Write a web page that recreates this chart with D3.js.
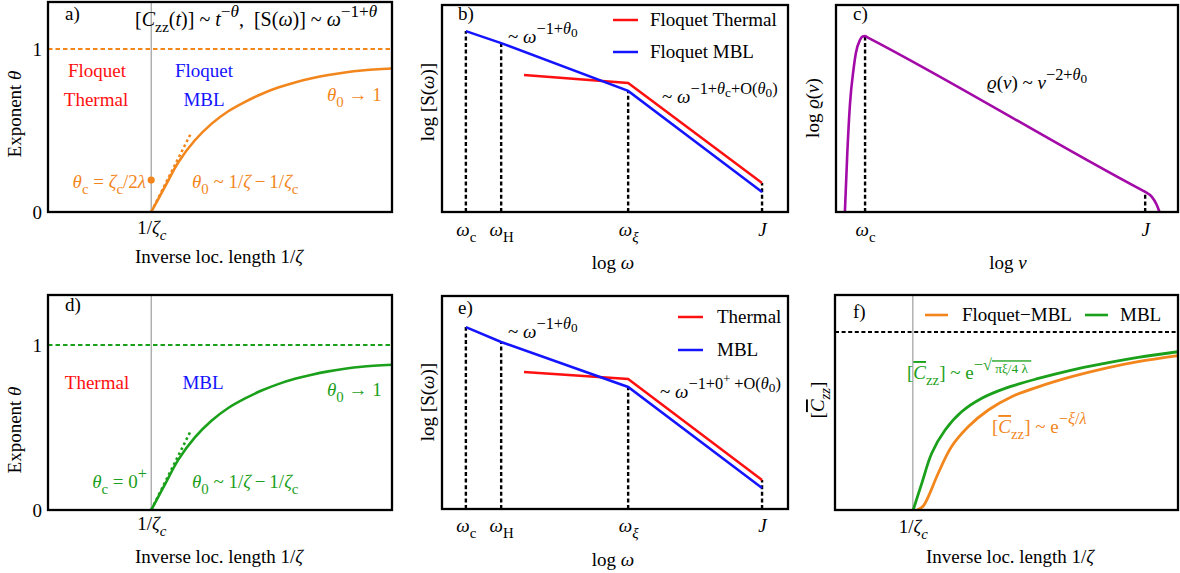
<!DOCTYPE html>
<html><head><meta charset="utf-8">
<script src="https://cdn.jsdelivr.net/npm/d3@7"></script>
<style>
html,body{margin:0;padding:0;background:#fff;}
svg{display:block;font-family:"Liberation Serif","Times New Roman",serif;}
svg text{font-family:"Liberation Serif","Times New Roman",serif;white-space:pre;}
</style></head>
<body><svg id="c" width="1180" height="573"></svg>
<script>
// ---------- data ----------
// panels a & d: exponent theta vs inverse localisation length (normalised x)
const thetaX = [0.30, 0.340, 0.379, 0.427, 0.476, 0.524, 0.573, 0.621, 0.669, 0.718, 0.767, 0.815, 0.863, 0.912, 1.0];
const thetaY = [0, 0.155, 0.305, 0.440, 0.542, 0.618, 0.676, 0.724, 0.763, 0.795, 0.820, 0.840, 0.856, 0.868, 0.88];
const tangentX = [0.30, 0.415];
const tangentY = [0, 0.48];
const critX = 0.30;           // 1/zeta_c
const thetaCdot = 0.196;      // theta_c marker in panel a
const thetaLimit = 1;         // dashed asymptote
// panels b & e: spectra (normalised log axes)
const specTickX = [0.069, 0.171, 0.538, 0.925];   // omega_c, omega_H, omega_xi, J
const mblB = [0.874, 0.816, 0.585, 0.097];
const thermX = [0.237, 0.538, 0.925];
const thermB = [0.662, 0.623, 0.140];
const mblE = [0.854, 0.784, 0.573, 0.099];
const thermE = [0.643, 0.610, 0.136];
// panel c: rho(nu)
const rhoX = [0.026, 0.033, 0.041, 0.051, 0.058, 0.070, 0.078, 0.085, 0.092, 0.896, 0.904, 0.923, 0.938, 0.946];
const rhoY = [0, 0.283, 0.525, 0.686, 0.767, 0.831, 0.848, 0.850, 0.844, 0.104, 0.097, 0.074, 0.034, 0];
const rhoTickX = [0.085, 0.904];
const rhoTickY = [0.850, 0.097];
// panel f: [C_zz]
const czzCritX = 0.227;
const czzLimit = 0.828;
const czzGreenX = [0.228, 0.253, 0.282, 0.321, 0.369, 0.428, 0.496, 0.593, 0.690, 0.787, 0.884, 1.0];
const czzGreenY = [0, 0.124, 0.264, 0.372, 0.457, 0.520, 0.566, 0.612, 0.651, 0.682, 0.710, 0.736];
const czzOrangeX = [0.240, 0.258, 0.272, 0.301, 0.340, 0.389, 0.447, 0.515, 0.593, 0.690, 0.787, 0.884, 1.0];
const czzOrangeY = [0, 0.02, 0.062, 0.171, 0.295, 0.388, 0.465, 0.527, 0.573, 0.620, 0.659, 0.690, 0.718];

// ---------- styles ----------
const ORANGE = "#f2861c", GREEN = "#1aa01a", RED = "#ff1010", BLUE = "#1414ff", PURPLE = "#a30aa8";
const FS = 19;
const FONT = "Liberation Serif, Times New Roman, serif";
const svg = d3.select("#c");

function rich(parent, x, y, segs, o = {}) {
  const fs = o.size || FS;
  const t = parent.append("text").attr("x", x).attr("y", y).attr("font-size", fs).attr("font-family", FONT)
    .attr("fill", o.fill || "#000").attr("text-anchor", o.anchor || "start");
  if (o.rotate) t.attr("transform", `rotate(-90 ${x} ${y})`);
  let cur = 0;
  segs.forEach(s => {
    const txt = s[0], code = s[1] || "";
    let off = 0, sc = 1;
    if (code.includes("b")) { off = 0.3; sc = 0.78; }
    if (code.includes("p")) { off = -0.46; sc = 0.86; }
    if (code.includes("q")) { off = -0.3; sc = 0.7; }
    if (code.includes("r")) { off = -0.78; sc = 0.66; }
    const ts = t.append("tspan").text(txt).attr("dy", ((off - cur) * fs).toFixed(2)).attr("font-size", (fs * sc).toFixed(2));
    if (code.includes("i")) ts.attr("font-style", "italic");
    if (code.includes("o")) ts.attr("text-decoration", "overline");
    cur = off;
  });
  return t;
}

function panel(l, r, t, b, yd) {
  const g = svg.append("g");
  const x = d3.scaleLinear().domain([0, 1]).range([l, r]);
  const y = d3.scaleLinear().domain(yd || [0, 1]).range([b, t]);
  return { g, x, y, l, r, t, b };
}
function frame(p) {
  p.g.append("rect").attr("x", p.l).attr("y", p.t).attr("width", p.r - p.l).attr("height", p.b - p.t)
    .attr("fill", "none").attr("stroke", "#000").attr("stroke-width", 2.3);
}
function bottomAxis(p, vals, labels, off) {
  const ax = p.g.append("g").attr("transform", `translate(0,${p.b})`)
    .call(d3.axisBottom(p.x).tickValues(vals).tickSize(0).tickFormat(""));
  ax.attr("font-family", FONT).attr("font-size", FS);
  ax.select(".domain").remove();
  ax.selectAll(".tick").each(function (d, i) {
    d3.select(this).select("text").remove();
    rich(d3.select(this), 0, off, labels[i], { anchor: "middle" });
  });
}
function leftAxis(p, vals) {
  const ax = p.g.append("g").attr("transform", `translate(${p.l},0)`)
    .call(d3.axisLeft(p.y).tickValues(vals).tickSize(0).tickPadding(6).tickFormat(d3.format("d")));
  ax.attr("font-family", FONT).attr("font-size", FS);
  ax.select(".domain").remove();
  ax.selectAll("text").attr("fill", "#000");
}
const lineGen = (p, curve) => d3.line().x(d => p.x(d[0])).y(d => p.y(d[1])).curve(curve || d3.curveLinear);
const zip = (a, b) => a.map((v, i) => [v, b[i]]);
const smooth = d3.curveCatmullRom.alpha(0.5);

// ---------- panels a & d ----------
function thetaPanel(p, col, isA) {
  p.g.append("line").attr("x1", p.x(critX)).attr("x2", p.x(critX)).attr("y1", p.t).attr("y2", p.b)
    .attr("stroke", "#8a8a8a").attr("stroke-width", 1);
  p.g.append("line").attr("x1", p.l).attr("x2", p.r).attr("y1", p.y(thetaLimit)).attr("y2", p.y(thetaLimit))
    .attr("stroke", col).attr("stroke-width", 2).attr("stroke-dasharray", "4.5,3");
  p.g.append("path").attr("d", lineGen(p)(zip(tangentX, tangentY))).attr("fill", "none")
    .attr("stroke", col).attr("stroke-width", 2.6).attr("stroke-dasharray", "2.6,3");
  p.g.append("path").attr("d", lineGen(p, smooth)(zip(thetaX, thetaY))).attr("fill", "none")
    .attr("stroke", col).attr("stroke-width", 2.6);
  if (isA) p.g.append("circle").attr("cx", p.x(critX)).attr("cy", p.y(thetaCdot)).attr("r", 3.6).attr("fill", col);
  leftAxis(p, [0, 1]);
  frame(p);
}
const pa = panel(48, 392, 2, 212, [0, 1.288]);
thetaPanel(pa, ORANGE, true);
bottomAxis(pa, [critX], [[["1/"], ["ζ", "i"], ["c", "bi"]]], 22);
rich(pa.g, 65, 20, [["a)"]]);
rich(pa.g, 135, 26, [["["], ["C", "i"], ["zz", "b"], ["("], ["t", "i"], [")] ~ "], ["t", "i"], ["−", "p"], ["θ", "pi"],
  [",  [S("], ["ω", "i"], [")] ~ "], ["ω", "i"], ["−1+", "p"], ["θ", "pi"]], { size: 20 });
rich(pa.g, 97, 77, [["Floquet"]], { anchor: "middle", fill: RED });
rich(pa.g, 96, 106, [["Thermal"]], { anchor: "middle", fill: RED });
rich(pa.g, 204, 77, [["Floquet"]], { anchor: "middle", fill: BLUE });
rich(pa.g, 204, 106, [["MBL"]], { anchor: "middle", fill: BLUE });
rich(pa.g, 327, 101, [["θ", "i"], ["0", "b"], [" → 1"]], { fill: ORANGE });
rich(pa.g, 146, 188, [["θ", "i"], ["c", "b"], [" = "], ["ζ", "i"], ["c", "b"], ["/2"], ["λ", "i"]], { anchor: "end", fill: ORANGE });
rich(pa.g, 192, 188, [["θ", "i"], ["0", "b"], [" ~ 1/"], ["ζ", "i"], ["\u2009−\u20091/"], ["ζ", "i"], ["c", "b"]], { fill: ORANGE });
rich(pa.g, 219, 263, [["Inverse loc. length 1/"], ["ζ", "i"]], { anchor: "middle" });
rich(pa.g, 21, 114, [["Exponent "], ["θ", "i"]], { anchor: "middle", rotate: true });

const pd = panel(48, 392, 295, 510, [0, 1.303]);
thetaPanel(pd, GREEN, false);
bottomAxis(pd, [critX], [[["1/"], ["ζ", "i"], ["c", "bi"]]], 20);
rich(pd.g, 65, 311, [["d)"]]);
rich(pd.g, 97, 389, [["Thermal"]], { anchor: "middle", fill: RED });
rich(pd.g, 203, 389, [["MBL"]], { anchor: "middle", fill: BLUE });
rich(pd.g, 327, 396, [["θ", "i"], ["0", "b"], [" → 1"]], { fill: GREEN });
rich(pd.g, 147, 488, [["θ", "i"], ["c", "b"], [" = 0"], ["+", "p"]], { anchor: "end", fill: GREEN });
rich(pd.g, 192, 488, [["θ", "i"], ["0", "b"], [" ~ 1/"], ["ζ", "i"], ["\u2009−\u20091/"], ["ζ", "i"], ["c", "b"]], { fill: GREEN });
rich(pd.g, 219, 563, [["Inverse loc. length 1/"], ["ζ", "i"]], { anchor: "middle" });
rich(pd.g, 21, 430, [["Exponent "], ["θ", "i"]], { anchor: "middle", rotate: true });

// ---------- panels b & e ----------
const omegaLabels = [[["ω", "i"], ["c", "b"]], [["ω", "i"], ["H", "b"]], [["ω", "i"], ["ξ", "bi"]], [["J", "i"]]];
function specPanel(p, mbl, therm) {
  const drops = [[specTickX[0], mbl[0]], [specTickX[1], mbl[1]], [specTickX[2], mbl[2]], [specTickX[3], therm[2]]];
  drops.forEach(d => p.g.append("line").attr("x1", p.x(d[0])).attr("x2", p.x(d[0])).attr("y1", p.b).attr("y2", p.y(d[1]))
    .attr("stroke", "#000").attr("stroke-width", 2.4).attr("stroke-dasharray", "4,2.6"));
  p.g.append("path").attr("d", lineGen(p)(zip(thermX, therm))).attr("fill", "none").attr("stroke", RED).attr("stroke-width", 2.5);
  p.g.append("path").attr("d", lineGen(p)(zip(specTickX, mbl))).attr("fill", "none").attr("stroke", BLUE).attr("stroke-width", 2.5);
  frame(p);
}
const pb = panel(442, 788, 5, 212);
specPanel(pb, mblB, thermB);
bottomAxis(pb, specTickX, omegaLabels, 24);
rich(pb.g, 458, 20, [["b)"]]);
pb.g.append("line").attr("x1", 613).attr("x2", 638).attr("y1", 20).attr("y2", 20).attr("stroke", RED).attr("stroke-width", 2.5);
pb.g.append("line").attr("x1", 613).attr("x2", 638).attr("y1", 52).attr("y2", 52).attr("stroke", BLUE).attr("stroke-width", 2.5);
rich(pb.g, 650, 26, [["Floquet Thermal"]]);
rich(pb.g, 650, 58, [["Floquet MBL"]]);
rich(pb.g, 508, 43, [["~ "], ["ω", "i"], ["−1+", "p"], ["θ", "pi"], ["0", "q"]]);
rich(pb.g, 662, 103, [["~ "], ["ω", "i"], ["−1+", "p"], ["θ", "pi"], ["c", "q"], ["+O(", "p"], ["θ", "pi"], ["0", "q"], [")", "p"]]);
rich(pb.g, 613, 269, [["log "], ["ω", "i"]], { anchor: "middle" });
rich(pb.g, 434, 102, [["log [S("], ["ω", "i"], [")]"]], { anchor: "middle", rotate: true });

const pe = panel(442, 788, 296, 509);
specPanel(pe, mblE, thermE);
bottomAxis(pe, specTickX, omegaLabels, 23);
rich(pe.g, 458, 314, [["e)"]]);
pe.g.append("line").attr("x1", 678).attr("x2", 703).attr("y1", 317).attr("y2", 317).attr("stroke", RED).attr("stroke-width", 2.5);
pe.g.append("line").attr("x1", 678).attr("x2", 703).attr("y1", 350).attr("y2", 350).attr("stroke", BLUE).attr("stroke-width", 2.5);
rich(pe.g, 717, 323, [["Thermal"]]);
rich(pe.g, 717, 356, [["MBL"]]);
rich(pe.g, 508, 338, [["~ "], ["ω", "i"], ["−1+", "p"], ["θ", "pi"], ["0", "q"]]);
rich(pe.g, 660, 398, [["~ "], ["ω", "i"], ["−1+0", "p"], ["+", "r"], [" +O(", "p"], ["θ", "pi"], ["0", "q"], [")", "p"]]);
rich(pe.g, 613, 566, [["log "], ["ω", "i"]], { anchor: "middle" });
rich(pe.g, 434, 402, [["log [S("], ["ω", "i"], [")]"]], { anchor: "middle", rotate: true });

// ---------- panel c ----------
const pc = panel(836, 1178, 5, 212);
rhoTickX.forEach((xv, i) => pc.g.append("line").attr("x1", pc.x(xv)).attr("x2", pc.x(xv)).attr("y1", pc.b).attr("y2", pc.y(rhoTickY[i]))
  .attr("stroke", "#000").attr("stroke-width", 2.4).attr("stroke-dasharray", "4,2.6"));
pc.g.append("path").attr("d", lineGen(pc, d3.curveMonotoneX)(zip(rhoX, rhoY))).attr("fill", "none").attr("stroke", PURPLE).attr("stroke-width", 2.6);
frame(pc);
bottomAxis(pc, rhoTickX, [[["ω", "i"], ["c", "b"]], [["J", "i"]]], 24);
rich(pc.g, 853, 20, [["c)"]]);
rich(pc.g, 987, 89, [["ϱ", "i"], ["("], ["ν", "i"], [") ~ "], ["ν", "i"], ["−2+", "p"], ["θ", "pi"], ["0", "q"]]);
rich(pc.g, 1008, 269, [["log "], ["ν", "i"]], { anchor: "middle" });
rich(pc.g, 819, 108, [["log "], ["ϱ", "i"], ["("], ["ν", "i"], [")"]], { anchor: "middle", rotate: true });

// ---------- panel f ----------
const pf = panel(835, 1178, 295, 510);
pf.g.append("line").attr("x1", pf.x(czzCritX)).attr("x2", pf.x(czzCritX)).attr("y1", pf.t).attr("y2", pf.b)
  .attr("stroke", "#8a8a8a").attr("stroke-width", 1);
pf.g.append("line").attr("x1", pf.l).attr("x2", pf.r).attr("y1", pf.y(czzLimit)).attr("y2", pf.y(czzLimit))
  .attr("stroke", "#000").attr("stroke-width", 2.2).attr("stroke-dasharray", "4,2.6");
pf.g.append("path").attr("d", lineGen(pf, smooth)(zip(czzOrangeX, czzOrangeY))).attr("fill", "none").attr("stroke", ORANGE).attr("stroke-width", 2.8);
pf.g.append("path").attr("d", lineGen(pf, smooth)(zip(czzGreenX, czzGreenY))).attr("fill", "none").attr("stroke", GREEN).attr("stroke-width", 2.8);
frame(pf);
bottomAxis(pf, [czzCritX], [[["1/"], ["ζ", "i"], ["c", "bi"]]], 23);
rich(pf.g, 853, 318, [["f)"]]);
pf.g.append("line").attr("x1", 925).attr("x2", 948).attr("y1", 315).attr("y2", 315).attr("stroke", ORANGE).attr("stroke-width", 2.6);
pf.g.append("line").attr("x1", 1085).attr("x2", 1108).attr("y1", 315).attr("y2", 315).attr("stroke", GREEN).attr("stroke-width", 2.6);
rich(pf.g, 962, 321, [["Floquet−MBL"]]);
rich(pf.g, 1120, 321, [["MBL"]]);
rich(pf.g, 907, 379, [["["], ["C", "io"], ["zz", "b"], ["] ~ e"], ["−", "p"], ["√", "p"], [" πξ/4 λ ", "qo"]], { fill: GREEN });
rich(pf.g, 992, 433, [["["], ["C", "io"], ["zz", "b"], ["] ~ e"], ["−", "p"], ["ξ", "pi"], ["/", "p"], ["λ", "pi"]], { fill: ORANGE });
rich(pf.g, 1010, 563, [["Inverse loc. length 1/"], ["ζ", "i"]], { anchor: "middle" });
rich(pf.g, 824, 400, [["["], ["C", "io"], ["zz", "bi"], ["]"]], { anchor: "middle", rotate: true });
</script></body></html>
